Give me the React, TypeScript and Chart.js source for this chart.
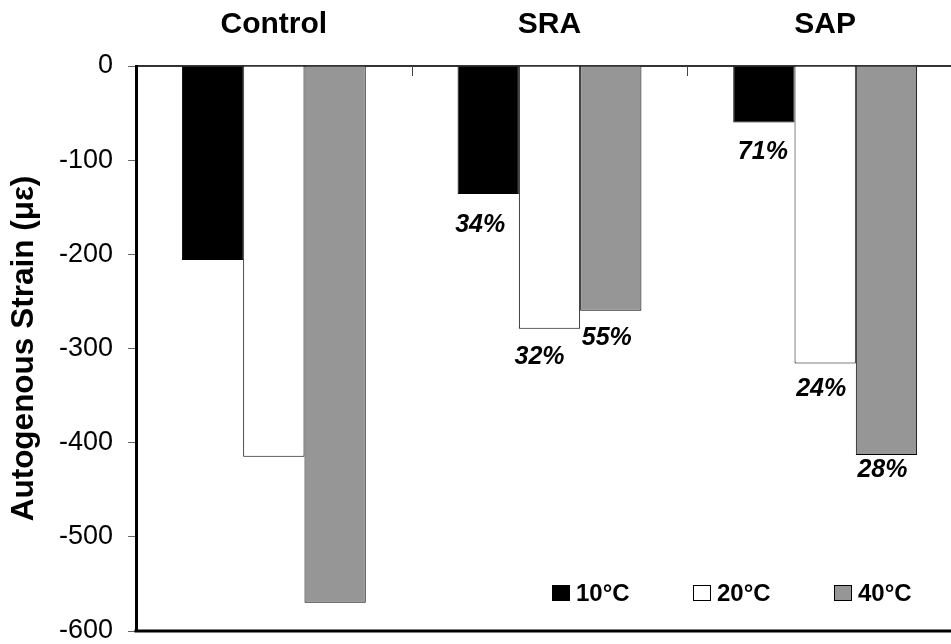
import React, { useEffect, useRef } from "react";
import { Chart, registerables } from "chart.js";

Chart.register(...registerables);

// ---- data ----
const categories = ["Control", "SRA", "SAP"];
const seriesNames = ["10°C", "20°C", "40°C"];
const strain10 = [-206, -136, -60];
const strain20 = [-415, -279, -316];
const strain40 = [-570, -260, -413];
const reduction10 = ["", "34%", "71%"];
const reduction20 = ["", "32%", "24%"];
const reduction40 = ["", "55%", "28%"];
const yMin = -600;
const yMax = 0;
const yStep = 100;

const seriesColors = ["#000000", "#ffffff", "#969696"];
const reductionLabels = [reduction10, reduction20, reduction40];
// small nudges of each percentage label relative to the bottom of its bar
const labelNudge = [
  [[0, 0], [-8, 31], [-1, 30]],
  [[0, 0], [-10, 28], [-4, 26]],
  [[0, 0], [-4, 27], [-4, 15]],
];

const FONT = "'Liberation Sans', Arial, Helvetica, sans-serif";

const decorPlugin = {
  id: "decor",
  afterDatasetsDraw(chart: any) {
    const { ctx, chartArea, scales } = chart;
    const x = scales.x;
    ctx.save();
    // inner category tick marks on the 0 axis
    ctx.strokeStyle = "#444";
    ctx.lineWidth = 1;
    for (let i = 1; i < categories.length; i++) {
      const px = Math.round((x.getPixelForValue(i - 1) + x.getPixelForValue(i)) / 2) + 0.5;
      ctx.beginPath();
      ctx.moveTo(px, chartArea.top);
      ctx.lineTo(px, chartArea.top + 10);
      ctx.stroke();
    }
    // bottom plot border
    ctx.strokeStyle = "#000";
    ctx.lineWidth = 3;
    ctx.beginPath();
    ctx.moveTo(chartArea.left - 1.5, chartArea.bottom);
    ctx.lineTo(chartArea.right + 20, chartArea.bottom);
    ctx.stroke();

    // percentage labels
    ctx.fillStyle = "#000";
    ctx.font = `italic bold 25px ${FONT}`;
    ctx.textAlign = "center";
    ctx.textBaseline = "middle";
    chart.data.datasets.forEach((_ds: any, di: number) => {
      const meta = chart.getDatasetMeta(di);
      meta.data.forEach((bar: any, i: number) => {
        const txt = reductionLabels[di][i];
        if (!txt) return;
        const [dx, dy] = labelNudge[di][i];
        ctx.fillText(txt, bar.x + dx, bar.y + dy);
      });
    });

    // legend
    const lx0 = chartArea.left + 416;
    const ly = chartArea.bottom - 38;
    ctx.font = `bold 24px ${FONT}`;
    ctx.textAlign = "left";
    ctx.textBaseline = "middle";
    chart.data.datasets.forEach((ds: any, di: number) => {
      const bx = lx0 + di * 141;
      ctx.fillStyle = ds.backgroundColor;
      ctx.fillRect(bx, ly - 8, 18, 16);
      ctx.strokeStyle = "#000";
      ctx.lineWidth = 1;
      ctx.strokeRect(bx + 0.5, ly - 7.5, 17, 15);
      ctx.fillStyle = "#000";
      ctx.fillText(ds.label, bx + 24, ly + 1);
    });
    ctx.restore();
  },
};

export default function App() {
  const ref = useRef<HTMLCanvasElement>(null);
  useEffect(() => {
    if (!ref.current) return;
    const chart = new Chart(ref.current, {
      type: "bar",
      data: {
        labels: categories,
        datasets: [strain10, strain20, strain40].map((d, i) => ({
          label: seriesNames[i],
          data: d,
          backgroundColor: seriesColors[i],
          borderColor: "#000",
          borderWidth: 1,
          borderSkipped: "start",
          categoryPercentage: 0.667,
          barPercentage: 1,
        })),
      },
      options: {
        responsive: false,
        animation: false,
        devicePixelRatio: 1,
        layout: { padding: { left: 0, top: 0, right: 17, bottom: 13 } },
        plugins: {
          legend: { display: false },
          tooltip: { enabled: false },
        },
        scales: {
          x: {
            position: "top",
            grid: { display: false, drawTicks: false },
            border: { display: true, color: "#333", width: 2 },
            ticks: {
              color: "#000",
              font: { family: FONT, size: 30, weight: "bold" },
              padding: 23,
            },
            afterFit(scale: any) {
              scale.height = 66;
              scale.paddingLeft = 0;
              scale.paddingRight = 0;
            },
          },
          y: {
            min: yMin,
            max: yMax,
            ticks: {
              stepSize: yStep,
              color: "#000",
              font: { family: FONT, size: 27 },
              padding: 15,
            },
            grid: {
              drawOnChartArea: false,
              drawTicks: true,
              tickLength: 8,
              color: "#666",
              lineWidth: 1,
            },
            border: { display: true, color: "#000", width: 3 },
            title: {
              display: true,
              text: "Autogenous Strain (με)",
              color: "#000",
              font: { family: FONT, size: 31.5, weight: "bold" },
              padding: { top: 5, bottom: 0 },
            },
            afterFit(scale: any) {
              scale.width = 136;
              scale.paddingTop = 0;
              scale.paddingBottom = 0;
            },
          },
        },
      },
      plugins: [decorPlugin],
    });
    return () => chart.destroy();
  }, []);

  return (
    <div
      style={{
        position: "fixed",
        left: 0,
        top: 0,
        width: 951,
        height: 644,
        overflow: "hidden",
        background: "#fff",
      }}
    >
      <canvas ref={ref} width={980} height={644} style={{ width: 980, height: 644, display: "block" }} />
    </div>
  );
}
